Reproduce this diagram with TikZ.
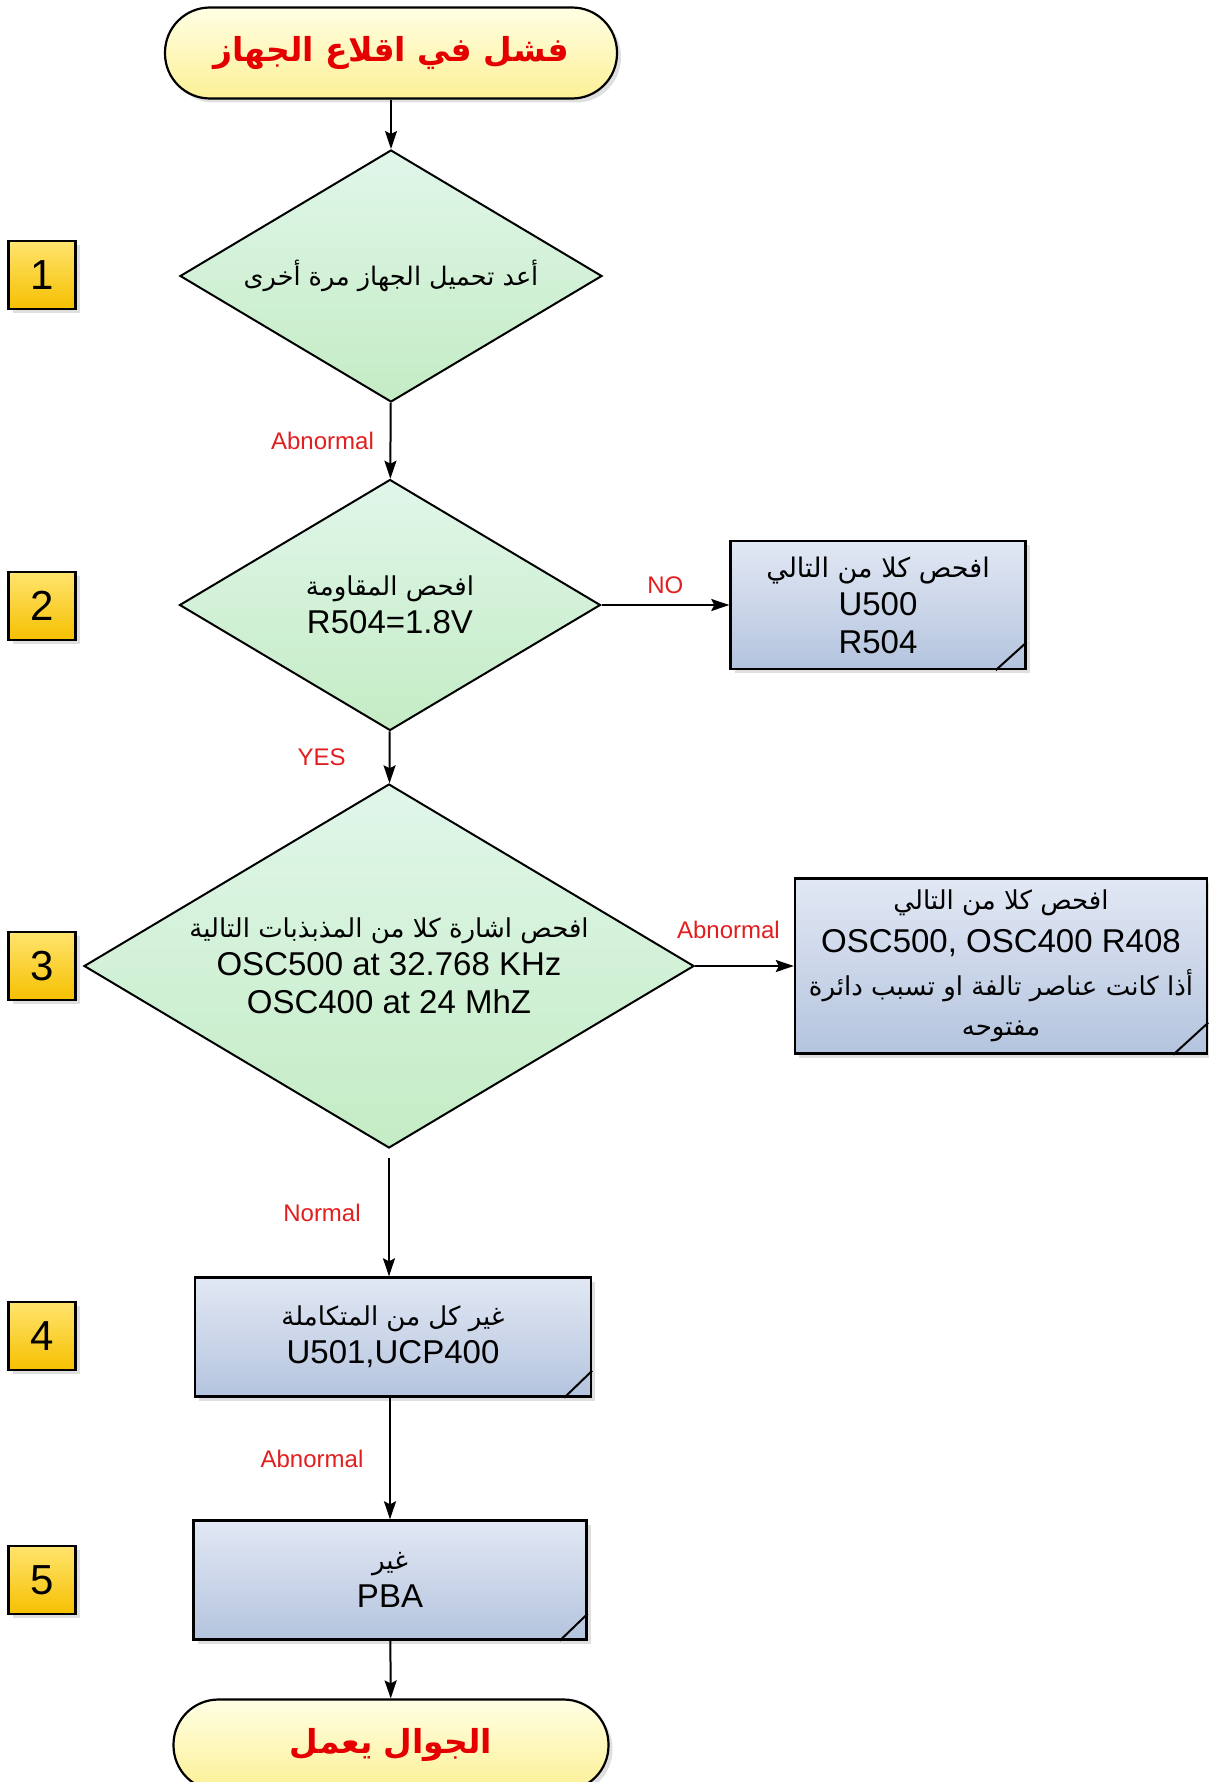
\documentclass[tikz,border=0pt]{standalone}
\usepackage{fontspec}
\setmainfont{Liberation Sans}
\newfontfamily\arabicfont[Script=Arabic]{DejaVu Sans}
\newfontfamily\arabicbold[Script=Arabic]{DejaVu Sans Bold}
\TeXXeTstate=1
\usetikzlibrary{shapes.geometric,arrows.meta,shadows}

% arabic lines, right to left
\newcommand{\artext}[1]{{\arabicfont\beginR #1\endR}}
\newcommand{\artitle}[1]{{\arabicbold\beginR #1\endR}}

\definecolor{termtop}{RGB}{255,255,228}
\definecolor{termbot}{RGB}{252,240,150}
\definecolor{dectop}{RGB}{224,246,234}
\definecolor{decbot}{RGB}{196,236,196}
\definecolor{boxtop}{RGB}{226,232,244}
\definecolor{boxbot}{RGB}{180,196,222}
\definecolor{numtop}{RGB}{255,228,110}
\definecolor{numbot}{RGB}{246,192,0}
\definecolor{labelred}{RGB}{226,30,30}
\definecolor{titlered}{RGB}{228,0,0}

\tikzset{
  softshadow/.style={drop shadow={shadow xshift=4pt,shadow yshift=-4pt,opacity=0.25}},
  terminal/.style={rectangle,rounded corners=45pt,draw=black,line width=2.2pt,
    top color=termtop,bottom color=termbot,minimum height=91pt,
    text=titlered,font=\fontsize{33}{40}\selectfont,softshadow},
  decision/.style={diamond,aspect=1.7,inner sep=0pt,draw=black,line width=2pt,
    top color=dectop,bottom color=decbot,align=center,
    font=\fontsize{33}{38}\selectfont},
  checkbox/.style={rectangle,draw=black,line width=2.4pt,top color=boxtop,
    bottom color=boxbot,align=center,font=\fontsize{33}{38}\selectfont,softshadow},
  stepnum/.style={rectangle,draw=black,line width=2.2pt,top color=numtop,
    bottom color=numbot,minimum width=67pt,minimum height=68pt,
    font=\fontsize{42}{42}\selectfont,softshadow},
  flow/.style={-{Stealth[length=18pt,width=12pt,inset=3pt]},line width=2pt},
  lbl/.style={text=labelred,font=\fontsize{24}{28}\selectfont,inner sep=0pt},
  fold/.style={line width=2pt},
}

\begin{document}
\begin{tikzpicture}[x=1pt,y=1pt,yscale=-1]
\useasboundingbox[fill=white] (0,0) rectangle (1209,1782);

% start and end
\node[terminal,minimum width=452pt] (start) at (391,53) {\artitle{فشل في اقلاع الجهاز}};
\node[terminal,minimum width=435pt] (finish) at (391,1745) {\artitle{الجوال يعمل}};

% decisions
\node[decision,minimum width=422pt,minimum height=252pt] (d1) at (391,276)
  {\fontsize{25.5}{30}\selectfont\artext{أعد تحميل الجهاز مرة أخرى}};
\node[decision,minimum width=421pt,minimum height=251pt] (d2) at (390,605)
  {\fontsize{26}{32}\selectfont\artext{افحص المقاومة}\\R504=1.8V};
\node[decision,minimum width=610pt,minimum height=364pt] (d3) at (389,966)
  {\fontsize{26}{32}\selectfont\artext{افحص اشارة كلا من المذبذبات التالية}\\
   OSC500 at 32.768 KHz\\OSC400 at 24 MhZ};

% boxes
\node[checkbox,minimum width=295pt,minimum height=128pt] (b2) at (878,605)
  {\fontsize{27}{32}\selectfont\artext{افحص كلا من التالي}\\U500\\R504};
\node[checkbox,minimum width=412pt,minimum height=175pt] (b3) at (1001,966)
  {\fontsize{26}{32}\selectfont\artext{افحص كلا من التالي}\\[5pt]
   \fontsize{33}{38}\selectfont OSC500, OSC400 R408\\[5pt]
   \fontsize{26}{32}\selectfont\artext{أذا كانت عناصر تالفة او تسبب دائرة}\\[2pt]
   \fontsize{26}{32}\selectfont\artext{مفتوحه}};
\node[checkbox,minimum width=396pt,minimum height=119pt] (b4) at (393,1337)
  {\fontsize{26}{34}\selectfont\artext{غير كل من المتكاملة}\\U501,UCP400};
\node[checkbox,minimum width=393pt,minimum height=119pt] (b5) at (390,1580)
  {\fontsize{26}{34}\selectfont\artext{غير}\\PBA};

% folded corners
\draw[fold] (b2.south east) ++(-31,0) -- ++(31,-28);
\draw[fold] (b3.south east) ++(-35,0) -- ++(35,-32);
\draw[fold] (b4.south east) ++(-28,0) -- ++(28,-27);
\draw[fold] (b5.south east) ++(-28,0) -- ++(28,-27);

% step numbers
\node[stepnum] (n1) at (42,275) {1};
\node[stepnum] (n2) at (42,606) {2};
\node[stepnum] (n3) at (42,966) {3};
\node[stepnum] (n4) at (42,1336) {4};
\node[stepnum] (n5) at (42,1580) {5};

% connectors
\draw[flow] (start) -- (d1);
\draw[flow] (d1) -- node[lbl,xshift=-68pt] {Abnormal} (d2);
\draw[flow] (d2) -- node[lbl,above=10pt] {NO} (b2);
\draw[flow] (d2) -- node[lbl,xshift=-68pt] {YES} (d3);
\draw[flow] (d3) -- node[lbl,above=26pt,xshift=-16pt] {Abnormal} (b3);
\draw[flow,shorten <=9pt] (d3.south) -- node[lbl,xshift=-67pt] {Normal} (d3.south |- b4.north);
\draw[flow] (b4.south -| b5.north) -- node[lbl,xshift=-78pt] {Abnormal} (b5.north);
\draw[flow] (b5) -- (finish);
\end{tikzpicture}
\end{document}
